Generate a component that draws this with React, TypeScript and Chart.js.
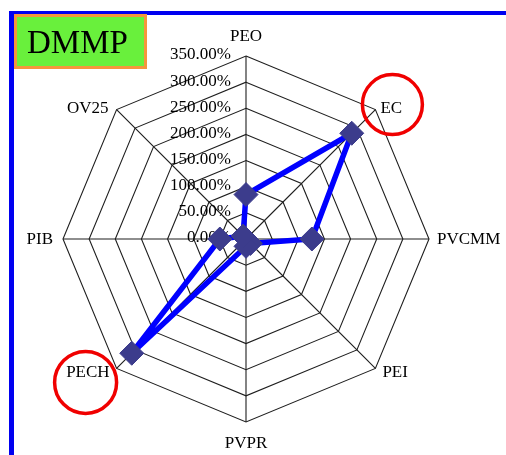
import React, { useEffect, useRef } from 'react';
import { Chart, registerables } from 'chart.js';

Chart.register(...registerables);

// ---- data ----
const categories = ['PEO', 'EC', 'PVCMM', 'PEI', 'PVPR', 'PECH', 'PIB', 'OV25'];
const seriesValues = [85, 286, 126, 12, 14, 309, 50, 8];
const tickValues = [0, 50, 100, 150, 200, 250, 300, 350];
const tickLabels = ['0.00%', '50.00%', '100.00%', '150.00%', '200.00%', '250.00%', '300.00%', '350.00%'];
const titleText = 'DMMP';
const highlightedCategories = ['EC', 'PECH'];

// ---- styles ----
const SERIF = '"Liberation Serif", "Times New Roman", serif';
// label offset from each axis end: [dx, dy, textAlign]
const labelPlacement: [number, number, CanvasTextAlign][] = [
  [0, -19, 'center'],
  [5, -1, 'left'],
  [8, 1, 'left'],
  [7, 4, 'left'],
  [0, 22, 'center'],
  [-7, 4, 'right'],
  [-10, 1, 'right'],
  [-8, -1, 'right'],
];
// highlight circle offset from axis end
const circlePlacement: Record<string, [number, number, number]> = {
  EC: [17, -5, 30],
  PECH: [-31, 14, 31],
};

const decorPlugin = {
  id: 'decor',
  beforeDraw(chart: any) {
    const ctx = chart.ctx as CanvasRenderingContext2D;
    ctx.save();
    ctx.fillStyle = '#ffffff';
    ctx.fillRect(0, 0, chart.width, chart.height);
    ctx.fillStyle = '#0000f0';
    ctx.fillRect(9, 11, chart.width - 9, 4);
    ctx.fillRect(9, 11, 5, chart.height - 11);
    ctx.restore();
  },
  beforeDatasetsDraw(chart: any) {
    const s = chart.scales.r;
    const ctx = chart.ctx as CanvasRenderingContext2D;
    ctx.save();
    ctx.font = `17px ${SERIF}`;
    ctx.fillStyle = '#000';
    ctx.textAlign = 'right';
    ctx.textBaseline = 'middle';
    tickValues.forEach((v, i) => {
      const d = s.getDistanceFromCenterForValue(v);
      ctx.fillText(tickLabels[i], s.xCenter - 15, s.yCenter - d - 1);
    });
    ctx.restore();
  },
  afterDraw(chart: any) {
    const s = chart.scales.r;
    const ctx = chart.ctx as CanvasRenderingContext2D;
    ctx.save();
    // point labels
    ctx.font = `17px ${SERIF}`;
    ctx.fillStyle = '#000';
    ctx.textBaseline = 'middle';
    categories.forEach((c, i) => {
      const p = s.getPointPosition(i, s.drawingArea);
      const [dx, dy, al] = labelPlacement[i];
      ctx.textAlign = al;
      ctx.fillText(c, p.x + dx, p.y + dy);
    });
    // highlight circles
    ctx.strokeStyle = '#f00000';
    ctx.lineWidth = 3.5;
    highlightedCategories.forEach((c) => {
      const i = categories.indexOf(c);
      const p = s.getPointPosition(i, s.drawingArea);
      const [dx, dy, r] = circlePlacement[c];
      ctx.beginPath();
      ctx.arc(p.x + dx, p.y + dy, r, 0, Math.PI * 2);
      ctx.stroke();
    });
    // title box
    ctx.fillStyle = '#69f03c';
    ctx.fillRect(15, 15, 131, 53);
    ctx.strokeStyle = '#f5963c';
    ctx.lineWidth = 3;
    ctx.strokeRect(15.5, 15.5, 130, 52);
    ctx.fillStyle = '#000';
    ctx.font = `33px ${SERIF}`;
    ctx.textAlign = 'left';
    ctx.textBaseline = 'alphabetic';
    ctx.fillText(titleText, 27, 53);
    ctx.restore();
  },
};

export default function App() {
  const ref = useRef<HTMLCanvasElement | null>(null);
  useEffect(() => {
    if (!ref.current) return;
    const chart = new Chart(ref.current, {
      type: 'radar',
      data: {
        labels: categories,
        datasets: [
          {
            data: seriesValues,
            borderColor: '#0000ff',
            borderWidth: 5.5,
            fill: false,
            pointStyle: 'rectRot',
            pointRadius: 12,
            pointHoverRadius: 12,
            pointBackgroundColor: '#3c3c8c',
            pointBorderColor: '#3c3c8c',
            pointBorderWidth: 1,
          },
        ],
      },
      options: {
        animation: false,
        responsive: false,
        devicePixelRatio: 1,
        layout: { padding: { left: 63, right: 77, top: 56, bottom: 33 } },
        plugins: { legend: { display: false }, tooltip: { enabled: false } },
        scales: {
          r: {
            min: 0,
            max: 350,
            beginAtZero: true,
            ticks: { display: false, stepSize: 50 },
            grid: { color: '#1e1e1e', lineWidth: 1.1 },
            angleLines: { color: '#1e1e1e', lineWidth: 1.1 },
            pointLabels: { display: false },
          },
        },
      },
      plugins: [decorPlugin],
    });
    return () => chart.destroy();
  }, []);
  return (
    <div style={{ position: 'fixed', left: 0, top: 0, width: 506, height: 455, overflow: 'hidden' }}>
      <canvas ref={ref} width={506} height={455} style={{ display: 'block' }} />
    </div>
  );
}
